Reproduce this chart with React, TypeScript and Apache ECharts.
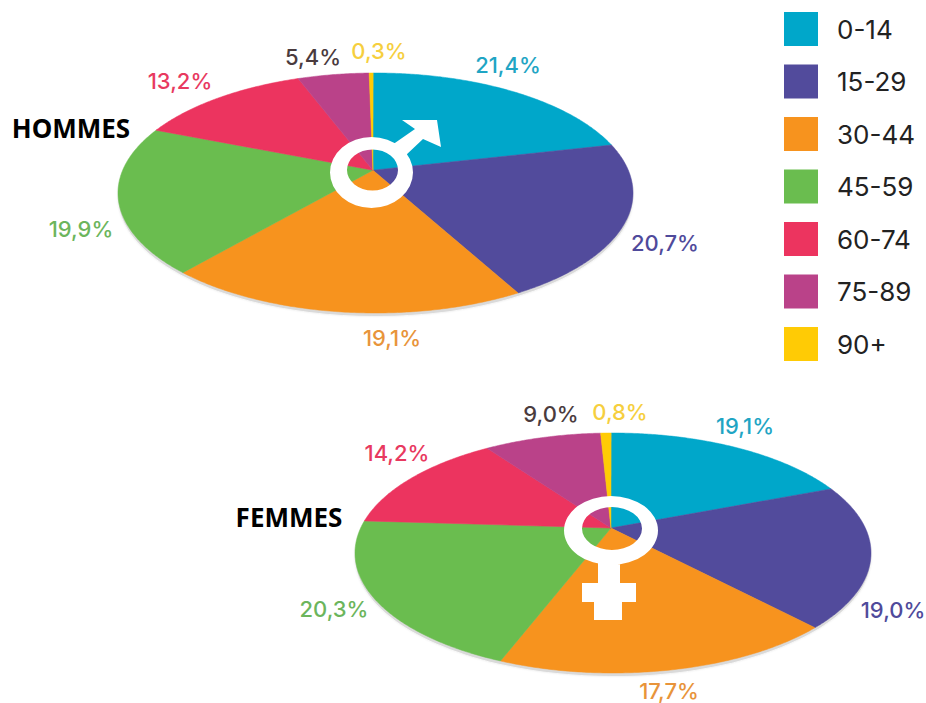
import React, { useEffect, useRef } from "react";
import * as echarts from "echarts";

const ageGroups = ["0-14", "15-29", "30-44", "45-59", "60-74", "75-89", "90+"];
const hommes = [21.4, 20.7, 19.1, 19.9, 13.2, 5.4, 0.3];
const femmes = [19.1, 19.0, 17.7, 20.3, 14.2, 9.0, 0.8];
const pieNames = ["HOMMES", "FEMMES"];

const sliceColors = ["#00a7ca", "#524b9c", "#f7931e", "#6abd4f", "#ec345f", "#ba4289", "#ffcb05"];
const labelColors = ["#1fa5c4", "#4f4a9b", "#e8943a", "#6cb55c", "#e8395f", "#4a3b3e", "#f6cf3e"];

// Layout: tilted disc drawn as a projective view of a circle
const discs = [
  { cx: 375.5, cy: 193, a: 257.5, b: 120, u0: -0.01, v0: -0.19 },
  { cx: 613, cy: 553, a: 258, b: 120, u0: -0.008, v0: -0.208 },
];
const labelAnchors = [
  [[508, 65], [665, 243], [392, 338], [81, 229], [180, 81], [313, 57], [379, 51]],
  [[745, 426], [893, 610], [669, 691], [334, 609], [397, 453], [551, 414], [620, 412]],
];

const series = [hommes, femmes];

function project(disc: any, x: number, y: number): number[] {
  const { u0, v0 } = disc;
  const n2 = u0 * u0 + v0 * v0;
  const dot = u0 * x + v0 * y;
  const k = Math.sqrt(1 - n2);
  const parCoef = dot / n2;
  const px = u0 * parCoef, py = v0 * parCoef;
  const denom = 1 + dot;
  const u = (u0 + px + k * (x - px)) / denom;
  const v = (v0 + py + k * (y - py)) / denom;
  return [disc.cx + disc.a * u, disc.cy + disc.b * v];
}

function sliceItem(params: any, api: any) {
  const value = api.value(0);
  const pie = api.value(1);
  const groupIdx = params.seriesIndex;
  const values = series[pie];
  const total = values.reduce((s, v) => s + v, 0);
  const before = values.slice(0, groupIdx).reduce((s, v) => s + v, 0);
  const t0 = (before / total) * Math.PI * 2;
  const t1 = ((before + value) / total) * Math.PI * 2;
  const disc = discs[pie];
  const pts: number[][] = [project(disc, 0, 0)];
  const steps = Math.max(2, Math.ceil((t1 - t0) / 0.01));
  for (let i = 0; i <= steps; i++) {
    const t = t0 + ((t1 - t0) * i) / steps;
    pts.push(project(disc, Math.sin(t), -Math.cos(t)));
  }
  const [lx, ly] = labelAnchors[pie][groupIdx];
  return {
    type: "group",
    children: [
      {
        type: "polygon",
        shape: { points: pts },
        style: { fill: sliceColors[groupIdx], stroke: sliceColors[groupIdx], lineWidth: 0.5 },
      },
      {
        type: "text",
        style: {
          x: lx,
          y: ly,
          text: value.toFixed(1).replace(".", ",") + "%",
          fill: labelColors[groupIdx],
          font: "500 22px Inter",
          align: "center",
          verticalAlign: "middle",
        },
      },
    ],
  };
}

const marsPath =
  "M330 172.5 A41.5 35.5 0 0 1 413 172.5 A41.5 35.5 0 0 1 330 172.5 Z " +
  "M347 170 A25.5 20.5 0 0 0 398 170 A25.5 20.5 0 0 0 347 170 Z " +
  "M392 145 L415 129 L402 120 L437 120 L441 147 L423 139 L405 156 Z";
const venusPath =
  "M564 530.5 A47 34.5 0 0 1 658 530.5 A47 34.5 0 0 1 564 530.5 Z " +
  "M582 528.5 A30 21.5 0 0 0 642 528.5 A30 21.5 0 0 0 582 528.5 Z " +
  "M598 560 L620 560 L620 583 L636 583 L636 602 L622 602 L622 620 L594 620 L594 602 L582 602 L582 583 L598 583 Z";

echarts.graphic.registerShape("marsSymbol", echarts.graphic.extendPath(marsPath, {}) as any);
echarts.graphic.registerShape("venusSymbol", echarts.graphic.extendPath(venusPath, {}) as any);

export default function App() {
  const ref = useRef<HTMLDivElement>(null);
  useEffect(() => {
    document.body.style.margin = "0";
    const chart = echarts.init(ref.current!, undefined, { renderer: "svg" });
    chart.setOption({
      animation: false,
      backgroundColor: "#ffffff",
      legend: {
        orient: "vertical",
        left: 784,
        top: 12,
        padding: 0,
        itemWidth: 34,
        itemHeight: 34,
        itemGap: 18.5,
        icon: "rect",
        data: ageGroups,
        textStyle: { fontFamily: "Inter", fontSize: 26, color: "#222222", padding: [0, 0, 0, 14] },
      },
      graphic: [
        ...discs.map((d) => ({
          type: "ellipse",
          z: 0,
          shape: { cx: d.cx, cy: d.cy + 3, rx: d.a, ry: d.b },
          style: { fill: "#dadada", shadowBlur: 2, shadowColor: "rgba(0,0,0,0.12)" },
        })),
        { type: "marsSymbol", z: 10, style: { fill: "#ffffff" } },
        { type: "venusSymbol", z: 10, style: { fill: "#ffffff" } },
        {
          type: "text",
          z: 10,
          style: { x: 71, y: 128, text: pieNames[0], fill: "#000000", font: "bold 26px 'Noto Sans'", align: "center", verticalAlign: "middle" },
        },
        {
          type: "text",
          z: 10,
          style: { x: 289, y: 517, text: pieNames[1], fill: "#000000", font: "bold 26px 'Noto Sans'", align: "center", verticalAlign: "middle" },
        },
      ],
      series: ageGroups.map((name, i) => ({
        type: "custom",
        name,
        coordinateSystem: "none",
        z: 2,
        itemStyle: { color: sliceColors[i] },
        renderItem: sliceItem,
        silent: true,
        data: [
          [hommes[i], 0],
          [femmes[i], 1],
        ],
      })),
    });
    return () => chart.dispose();
  }, []);
  return <div ref={ref} style={{ width: 926, height: 703 }} />;
}
